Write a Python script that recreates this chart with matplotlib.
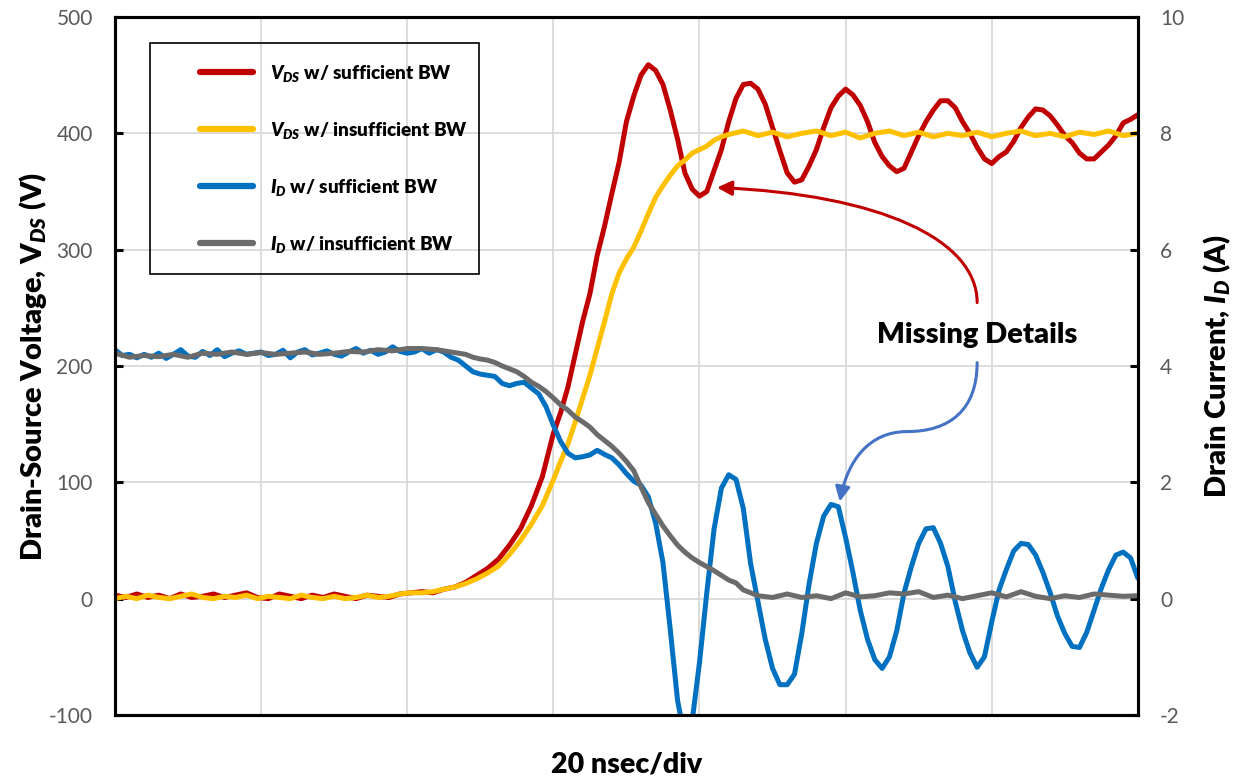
import matplotlib
matplotlib.use("Agg")
import matplotlib.pyplot as plt
from matplotlib.path import Path
from matplotlib.patches import FancyArrowPatch, Rectangle

plt.rcParams['font.family'] = ['Lato', 'DejaVu Sans']
plt.rcParams['mathtext.fontset'] = 'custom'
plt.rcParams['mathtext.rm'] = 'Lato:heavy'
plt.rcParams['mathtext.it'] = 'Lato:italic:heavy'
plt.rcParams['mathtext.bf'] = 'Lato:heavy'
plt.rcParams['axes.unicode_minus'] = False

# colours taken off the scope screenshot
c_red = "#C00000"
c_yel = "#FFC000"
c_blu = "#0070C0"
c_gry = "#6B6B6B"

# ---- V_DS with sufficient bandwidth (ns, V)
t_vds_hi = [0, 1.5, 3, 4.5, 6, 7.5, 9, 10.5, 12, 13.5, 15, 16.5, 18, 19.5, 21, 22.5, 24, 25.5,
            27, 28.5, 30, 31.5, 33, 34.5, 36, 37.5, 39, 40.5, 42, 43.5, 45, 46.5, 48, 49.5,
            51, 52.5, 54, 55.5, 57, 58.5, 60, 61, 62, 63, 64, 65, 66, 67, 68, 69, 70, 71,
            72, 73, 74, 75, 76, 77, 78, 79, 80, 81, 82, 83, 84, 85, 86, 87, 88, 89, 90, 91,
            92, 93, 94, 95, 96, 97, 98, 99, 100, 101, 102, 103, 104, 105, 106, 107, 108, 109,
            110, 111, 112, 113, 114, 115, 116, 117, 118, 119, 120, 121, 122, 123, 124, 125,
            126, 127, 128, 129, 130, 131, 132, 133, 134, 135, 136, 137, 138, 139, 140]
v_vds_hi = [3, 1, 4, 1, 3, 0, 4, 1, 2, 4, 1, 3, 5, 1, 0, 4, 2, 0, 3, 1, 4, 2, 0, 3, 2, 1,
            4, 5, 6, 5, 8, 10, 14, 20, 26, 34, 46, 60, 80, 105, 142, 160, 182, 210, 238, 262,
            295, 320, 348, 375, 410, 432, 450, 459, 454, 442, 420, 395, 366, 352, 346, 350,
            368, 386, 410, 430, 442, 443, 438, 425, 405, 385, 366, 358, 360, 372, 386, 405,
            422, 432, 438, 433, 424, 410, 392, 380, 372, 367, 370, 384, 398, 410, 420, 428,
            428, 422, 410, 400, 388, 378, 374, 380, 384, 393, 405, 414, 421, 420, 415, 407,
            398, 392, 383, 378, 378, 384, 390, 398, 409, 412, 416]

# ---- V_DS with insufficient bandwidth (ns, V)
t_vds_lo = [0, 1.5, 3, 4.5, 6, 7.5, 9, 10.5, 12, 13.5, 15, 16.5, 18, 19.5, 21, 22.5, 24, 25.5,
            27, 28.5, 30, 31.5, 33, 34.5, 36, 37.5, 39, 40.5, 42, 43.5, 45, 46.5, 48, 49.5,
            51, 52.5, 54, 55.5, 57, 58.5, 60, 61, 62, 63, 64, 65, 66, 67, 68, 69, 70, 71,
            72, 73, 74, 75, 76, 77, 78, 79, 80, 81, 82, 83, 84, 86, 88, 90, 92, 94, 96, 98,
            100, 102, 104, 106, 108, 110, 112, 114, 116, 118, 120, 122, 124, 126, 128, 130,
            132, 134, 136, 138, 140]
v_vds_lo = [0, 2, 0, 3, 1, 0, 2, 4, 1, 0, 2, 1, 3, 0, 2, 1, 0, 3, 1, 0, 2, 0, 1, 3, 1, 2,
            4, 5, 5, 6, 8, 10, 13, 17, 22, 28, 38, 50, 64, 80, 102, 118, 133, 152, 172, 192,
            215, 238, 262, 280, 292, 302, 316, 331, 345, 355, 364, 372, 377, 383, 386, 389,
            394, 397, 399, 402, 398, 401, 397, 400, 402, 398, 401, 396, 400, 402, 398, 401,
            397, 400, 398, 401, 397, 400, 402, 398, 400, 397, 401, 399, 402, 398, 400]

# ---- I_D with sufficient bandwidth (ns, A)
t_id_hi = [0, 1, 2, 3, 4, 5, 6, 7, 8, 9, 10, 11, 12, 13, 14, 15, 16, 17, 18, 19, 20, 21,
           22, 23, 24, 25, 26, 27, 28, 29, 30, 31, 32, 33, 34, 35, 36, 37, 38, 39, 40, 41,
           42, 43, 44, 45, 46, 47, 48, 49, 50, 51, 52, 53, 54, 55, 56, 57, 58, 59, 60, 61,
           62, 63, 64, 65, 66, 67, 68, 69, 70, 71, 72, 73, 74, 75, 76, 77, 78, 79, 80, 81,
           82, 83, 84, 85, 86, 87, 88, 89, 90, 91, 92, 93, 94, 95, 96, 97, 98, 99, 100, 101,
           102, 103, 104, 105, 106, 107, 108, 109, 110, 111, 112, 113, 114, 115, 116, 117,
           118, 119, 120, 121, 122, 123, 124, 125, 126, 127, 128, 129, 130, 131, 132, 133,
           134, 135, 136, 137, 138, 139, 140]
i_id_hi = [4.28, 4.18, 4.2, 4.14, 4.2, 4.15, 4.22, 4.13, 4.2, 4.28, 4.17, 4.15, 4.25, 4.18,
           4.28, 4.16, 4.22, 4.26, 4.2, 4.22, 4.24, 4.18, 4.2, 4.27, 4.14, 4.24, 4.28, 4.19,
           4.22, 4.26, 4.2, 4.17, 4.24, 4.3, 4.22, 4.27, 4.2, 4.24, 4.33, 4.25, 4.22, 4.24,
           4.3, 4.22, 4.28, 4.24, 4.15, 4.1, 4.0, 3.9, 3.86, 3.84, 3.82, 3.7, 3.66, 3.7,
           3.72, 3.62, 3.52, 3.3, 2.98, 2.7, 2.5, 2.42, 2.44, 2.47, 2.55, 2.48, 2.42, 2.3,
           2.15, 2.02, 1.95, 1.75, 1.3, 0.62, -0.53, -1.75, -2.4, -2.1, -1.1, 0.1, 1.2, 1.9,
           2.13, 2.05, 1.55, 0.6, -0.05, -0.7, -1.2, -1.48, -1.48, -1.3, -0.6, 0.25, 0.95,
           1.42, 1.62, 1.58, 1.05, 0.45, -0.2, -0.7, -1.05, -1.2, -1.0, -0.55, 0.1, 0.55,
           0.95, 1.2, 1.22, 0.95, 0.55, -0.05, -0.55, -0.93, -1.18, -1.0, -0.4, 0.15, 0.5,
           0.82, 0.95, 0.93, 0.75, 0.45, 0.1, -0.3, -0.6, -0.82, -0.84, -0.58, -0.2, 0.18,
           0.5, 0.75, 0.8, 0.7, 0.35]

# ---- I_D with insufficient bandwidth (ns, A)
t_id_lo = [0, 2, 4, 6, 8, 10, 12, 14, 16, 18, 20, 22, 24, 26, 28, 30, 32, 34, 36, 38, 40,
           42, 44, 46, 47, 48, 49, 50, 51, 52, 53, 54, 55, 56, 57, 58, 59, 60, 61, 62, 63,
           64, 65, 66, 67, 68, 69, 70, 71, 72, 73, 74, 75, 76, 77, 78, 79, 80, 81, 82, 83,
           84, 85, 86, 87, 88, 90, 92, 94, 96, 98, 100, 102, 104, 106, 108, 110, 112, 114,
           116, 118, 120, 122, 124, 126, 128, 130, 132, 134, 136, 138, 140]
i_id_lo = [4.22, 4.15, 4.18, 4.16, 4.2, 4.15, 4.22, 4.2, 4.24, 4.2, 4.23, 4.2, 4.22, 4.24,
           4.2, 4.22, 4.25, 4.24, 4.28, 4.26, 4.3, 4.3, 4.28, 4.24, 4.22, 4.2, 4.15, 4.12,
           4.1, 4.06, 4.0, 3.95, 3.9, 3.82, 3.72, 3.65, 3.56, 3.45, 3.33, 3.24, 3.12, 3.04,
           2.95, 2.82, 2.72, 2.62, 2.5, 2.36, 2.2, 1.92, 1.65, 1.45, 1.25, 1.08, 0.92, 0.8,
           0.7, 0.62, 0.55, 0.48, 0.4, 0.32, 0.27, 0.15, 0.1, 0.05, 0.02, 0.08, 0.02, 0.05,
           0.0, 0.1, 0.03, 0.05, 0.1, 0.08, 0.12, 0.02, 0.06, 0.0, 0.05, 0.1, 0.03, 0.12,
           0.04, 0.0, 0.05, 0.02, 0.08, 0.06, 0.04, 0.05]

fig = plt.figure(figsize=(12.44, 7.79), dpi=100)
ax = fig.add_axes([0.0924, 0.0822, 0.8223, 0.896])
ax2 = ax.twinx()

lw = 3.6
l1, = ax.plot(t_vds_hi, v_vds_hi, color=c_red, lw=lw, solid_capstyle='round')
l2, = ax.plot(t_vds_lo, v_vds_lo, color=c_yel, lw=lw, solid_capstyle='round')
l3, = ax2.plot(t_id_hi, i_id_hi, color=c_blu, lw=lw, solid_capstyle='round')
l4, = ax2.plot(t_id_lo, i_id_lo, color=c_gry, lw=lw, solid_capstyle='round')

ax.set_xlim(0, 140)
ax.set_ylim(-100, 500)
ax2.set_ylim(-2, 10)
ax.set_xticks(range(0, 141, 20))
ax.set_yticks(range(-100, 501, 100))
ax2.set_yticks(range(-2, 11, 2))
ax.grid(True, color='#D9D9D9', lw=1.3)
ax.set_axisbelow(True)

ax.tick_params(axis='x', length=0, labelbottom=False)
ax.tick_params(axis='y', direction='in', length=6, width=2.2, labelsize=15,
               labelcolor='#595959', pad=16)
ax2.tick_params(axis='y', direction='in', length=6, width=2.2, labelsize=15,
                labelcolor='#595959', pad=16)
for a in (ax, ax2):
    for s in a.spines.values():
        s.set_linewidth(2.2)
        s.set_color('black')

ax.set_xlabel("20 nsec/div", fontsize=20.5, fontweight='heavy')
ax.xaxis.set_label_coords(0.5, -0.052)
ax.set_ylabel(r"Drain-Source Voltage, $\mathrm{V}_{DS}$ (V)", fontsize=21,
              fontweight='heavy')
ax.yaxis.set_label_coords(-0.064, 0.5)
ax2.set_ylabel(r"Drain Current, $I_D$ (A)", fontsize=21, fontweight='heavy')
ax2.yaxis.set_label_coords(1.062, 0.5)

# legend: frameless, with a hand drawn box round it
ax2.add_patch(Rectangle((0.034, 0.632), 0.3216, 0.331, transform=ax2.transAxes,
                        fill=False, ec='black', lw=1.2, zorder=5))
leg = ax2.legend([l1, l2, l3, l4],
                 [r"$V_{DS}$ w/ sufficient BW", r"$V_{DS}$ w/ insufficient BW",
                  r"$I_D$ w/ sufficient BW", r"$I_D$ w/ insufficient BW"],
                 loc='center left', bbox_to_anchor=(0.0743, 0.797), frameon=False,
                 borderpad=0, handlelength=2.8, handletextpad=0.9, labelspacing=1.9,
                 prop={'weight': 'heavy', 'size': 13.6})
for h in leg.get_lines():
    h.set_linewidth(4.5)

ax2.text(118.0 / 140, (715 - 335) / 698, "Missing Details",
         transform=ax2.transAxes, ha='center', va='center', fontsize=21, fontweight='heavy')

# curved arrows (data coords of the voltage axis)
red_path = Path([(118.0, 254.5), (118.0, 308.7), (104.7, 347.4), (82.4, 353.4)],
                [Path.MOVETO, Path.CURVE4, Path.CURVE4, Path.CURVE4])
blu_path = Path([(118.0, 202.9), (118.0, 162.5), (114.3, 143.6), (108.4, 143.6),
                 (103.3, 143.6), (100.3, 119.5), (99.2, 83.4)],
                [Path.MOVETO, Path.CURVE4, Path.CURVE4, Path.CURVE4,
                 Path.CURVE4, Path.CURVE4, Path.CURVE4])
for p, c in ((red_path, c_red), (blu_path, "#4472C4")):
    arr = FancyArrowPatch(path=p, arrowstyle='-|>', mutation_scale=22, color=c, lw=2.2,
                          transform=ax.transData)
    ax2.add_patch(arr)

fig.savefig("out.png", dpi=100)
